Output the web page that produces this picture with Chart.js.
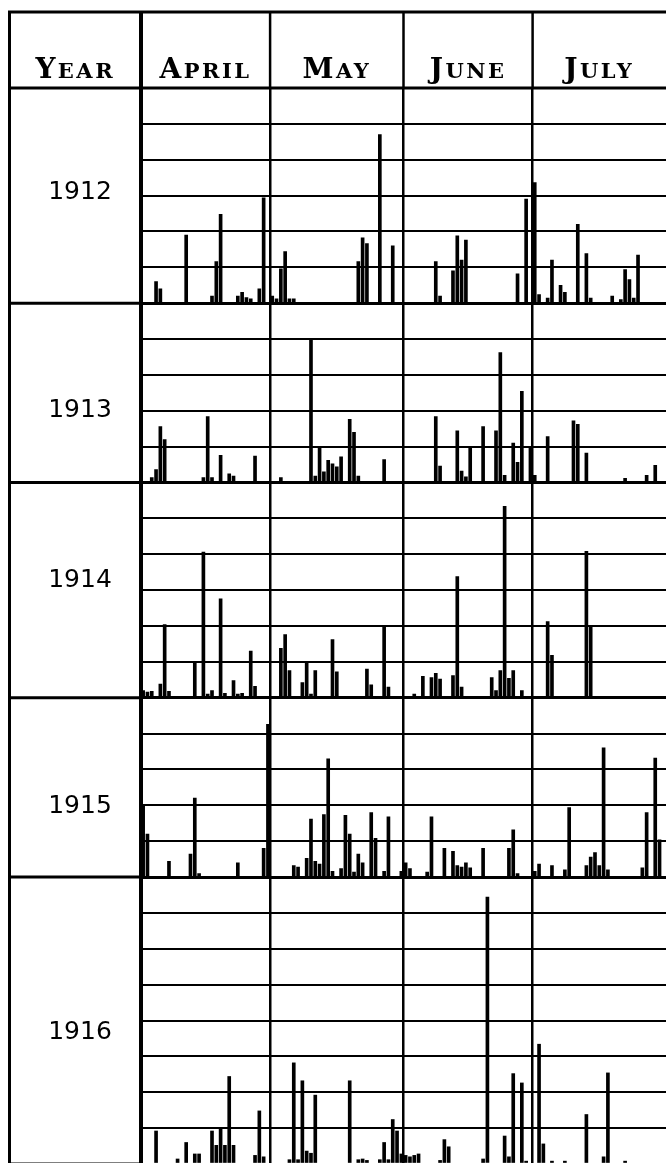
<!DOCTYPE html>
<html>
<head>
<meta charset="utf-8">
<script src="https://cdn.jsdelivr.net/npm/chart.js@4.4.1/dist/chart.umd.min.js"></script>
<style>
  html, body { margin: 0; padding: 0; background: #fff; overflow: hidden; }
  canvas { display: block; }
</style>
</head>
<body>
<canvas id="rain" width="666" height="1170"></canvas>
<script>
const months = ['April', 'May', 'June', 'July']
const monthNums = [4, 5, 6, 7]
const monthDays = [30, 31, 30, 31]
const years = ['1912', '1913', '1914', '1915', '1916']
// top of each year's band in inches, ruled every half inch
const yearMax = [3.0, 2.5, 3.0, 2.5, 4.0]

// daily rainfall, [month/day, inches]
const rain1912 = [
  ['4/4', 0.30], ['4/5', 0.20], ['4/11', 0.95], ['4/17', 0.10], ['4/18', 0.58], ['4/19', 1.24],
  ['4/23', 0.10], ['4/24', 0.15], ['4/25', 0.08], ['4/26', 0.06], ['4/28', 0.20], ['4/29', 1.47],
  ['5/1', 0.10], ['5/2', 0.06], ['5/3', 0.48], ['5/4', 0.72], ['5/5', 0.06], ['5/6', 0.06],
  ['5/21', 0.58], ['5/22', 0.91], ['5/23', 0.83], ['5/26', 2.35], ['5/29', 0.80],
  ['6/8', 0.58], ['6/9', 0.10], ['6/12', 0.45], ['6/13', 0.94], ['6/14', 0.60], ['6/15', 0.88],
  ['6/27', 0.41], ['6/29', 1.45],
  ['7/1', 1.68], ['7/2', 0.12], ['7/4', 0.07], ['7/5', 0.60], ['7/7', 0.25], ['7/8', 0.15],
  ['7/11', 1.10], ['7/13', 0.69], ['7/14', 0.07], ['7/19', 0.10], ['7/21', 0.05], ['7/22', 0.47],
  ['7/23', 0.33], ['7/24', 0.07], ['7/25', 0.67]
]
const rain1913 = [
  ['4/3', 0.07], ['4/4', 0.18], ['4/5', 0.78], ['4/6', 0.60], ['4/15', 0.07], ['4/16', 0.92],
  ['4/17', 0.07], ['4/19', 0.38], ['4/21', 0.12], ['4/22', 0.09], ['4/27', 0.37],
  ['5/3', 0.07], ['5/10', 2.00], ['5/11', 0.09], ['5/12', 0.48], ['5/13', 0.15], ['5/14', 0.31],
  ['5/15', 0.26], ['5/16', 0.22], ['5/17', 0.36], ['5/19', 0.88], ['5/20', 0.70], ['5/21', 0.09],
  ['5/27', 0.32],
  ['6/8', 0.92], ['6/9', 0.23], ['6/13', 0.72], ['6/14', 0.16], ['6/15', 0.08], ['6/16', 0.48],
  ['6/19', 0.78], ['6/22', 0.72], ['6/23', 1.81], ['6/24', 0.10], ['6/26', 0.55], ['6/27', 0.28],
  ['6/28', 1.27], ['6/30', 0.48],
  ['7/1', 0.10], ['7/4', 0.64], ['7/10', 0.86], ['7/11', 0.81], ['7/13', 0.41], ['7/22', 0.06],
  ['7/27', 0.10], ['7/29', 0.24]
]
const rain1914 = [
  ['4/1', 0.10], ['4/2', 0.08], ['4/3', 0.09], ['4/5', 0.19], ['4/6', 1.02], ['4/7', 0.09],
  ['4/13', 0.50], ['4/15', 2.03], ['4/16', 0.05], ['4/17', 0.10], ['4/19', 1.38], ['4/20', 0.06],
  ['4/22', 0.24], ['4/23', 0.05], ['4/24', 0.06], ['4/26', 0.65], ['4/27', 0.16],
  ['5/3', 0.69], ['5/4', 0.88], ['5/5', 0.38], ['5/8', 0.21], ['5/9', 0.50], ['5/10', 0.05],
  ['5/11', 0.38], ['5/15', 0.81], ['5/16', 0.36], ['5/23', 0.40], ['5/24', 0.18], ['5/27', 1.01],
  ['5/28', 0.15],
  ['6/3', 0.05], ['6/5', 0.30], ['6/7', 0.28], ['6/8', 0.34], ['6/9', 0.26], ['6/12', 0.31],
  ['6/13', 1.69], ['6/14', 0.15], ['6/21', 0.28], ['6/22', 0.10], ['6/23', 0.38], ['6/24', 2.67],
  ['6/25', 0.27], ['6/26', 0.38], ['6/28', 0.10],
  ['7/4', 1.06], ['7/5', 0.59], ['7/13', 2.04], ['7/14', 0.98]
]
const rain1915 = [
  ['4/1', 1.01], ['4/2', 0.60], ['4/7', 0.22], ['4/12', 0.32], ['4/13', 1.10], ['4/14', 0.05],
  ['4/23', 0.20], ['4/29', 0.40], ['4/30', 2.13],
  ['5/6', 0.16], ['5/7', 0.14], ['5/9', 0.26], ['5/10', 0.81], ['5/11', 0.22], ['5/12', 0.18],
  ['5/13', 0.87], ['5/14', 1.65], ['5/15', 0.08], ['5/17', 0.12], ['5/18', 0.86], ['5/19', 0.60],
  ['5/20', 0.07], ['5/21', 0.32], ['5/22', 0.20], ['5/24', 0.90], ['5/25', 0.54], ['5/27', 0.08],
  ['5/28', 0.84], ['5/31', 0.08],
  ['6/1', 0.20], ['6/2', 0.12], ['6/6', 0.07], ['6/7', 0.84], ['6/10', 0.40], ['6/12', 0.36],
  ['6/13', 0.16], ['6/14', 0.14], ['6/15', 0.20], ['6/16', 0.13], ['6/19', 0.40], ['6/25', 0.40],
  ['6/26', 0.66], ['6/27', 0.05],
  ['7/1', 0.08], ['7/2', 0.18], ['7/5', 0.16], ['7/8', 0.10], ['7/9', 0.97], ['7/13', 0.16],
  ['7/14', 0.28], ['7/15', 0.34], ['7/16', 0.16], ['7/17', 1.80], ['7/18', 0.10], ['7/26', 0.13],
  ['7/27', 0.90], ['7/29', 1.66], ['7/30', 0.52]
]
const rain1916 = [
  ['4/4', 0.46], ['4/9', 0.07], ['4/11', 0.30], ['4/13', 0.14], ['4/14', 0.14], ['4/17', 0.46],
  ['4/18', 0.26], ['4/19', 0.49], ['4/20', 0.26], ['4/21', 1.22], ['4/22', 0.26], ['4/27', 0.12],
  ['4/28', 0.74], ['4/29', 0.10],
  ['5/5', 0.06], ['5/6', 1.41], ['5/7', 0.06], ['5/8', 1.16], ['5/9', 0.18], ['5/10', 0.15],
  ['5/11', 0.96], ['5/19', 1.16], ['5/21', 0.06], ['5/22', 0.07], ['5/23', 0.05], ['5/26', 0.06],
  ['5/27', 0.30], ['5/28', 0.06], ['5/29', 0.62], ['5/30', 0.46], ['5/31', 0.14],
  ['6/1', 0.12], ['6/2', 0.10], ['6/3', 0.12], ['6/4', 0.14], ['6/9', 0.05], ['6/10', 0.34],
  ['6/11', 0.24], ['6/19', 0.07], ['6/20', 3.72], ['6/24', 0.39], ['6/25', 0.10], ['6/26', 1.26],
  ['6/28', 1.13], ['6/29', 0.04],
  ['7/2', 1.67], ['7/3', 0.28], ['7/5', 0.04], ['7/8', 0.04], ['7/13', 0.69], ['7/17', 0.10],
  ['7/18', 1.27], ['7/22', 0.04]
]
const series = [rain1912, rain1913, rain1914, rain1915, rain1916]

// one category per day, April 1 to July 31
const labels = []
const monthStarts = []
monthNums.forEach((m, k) => {
  monthStarts.push(labels.length)
  for (let d = 1; d <= monthDays[k]; d++) labels.push(`${m}/${d}`)
})

const yearLabelY = [192, 410, 580, 806, 1032]

function smallCaps(ctx, text, cx, baseline) {
  const big = 'bold 28px "DejaVu Serif"'
  const small = 'bold 21px "DejaVu Serif"'
  const first = text[0]
  const rest = text.slice(1).toUpperCase()
  ctx.letterSpacing = '2.5px'
  ctx.font = big
  const w1 = ctx.measureText(first).width
  ctx.font = small
  const w2 = ctx.measureText(rest).width
  const x = cx - (w1 + w2) / 2
  ctx.font = big
  ctx.fillText(first, x, baseline)
  ctx.font = small
  ctx.fillText(rest, x + w1, baseline)
  ctx.letterSpacing = '0px'
}

const framePlugin = {
  id: 'frame',
  afterDraw(chart) {
    const ctx = chart.ctx
    const area = chart.chartArea
    const dayW = (area.right - area.left) / labels.length
    const edges = monthStarts.map(i => area.left + i * dayW)
    edges.push(area.right)
    const left = 9.5
    const top = 12

    const line = (x1, y1, x2, y2, w) => {
      ctx.lineWidth = w
      ctx.beginPath()
      ctx.moveTo(x1, y1)
      ctx.lineTo(x2, y2)
      ctx.stroke()
    }

    ctx.save()
    ctx.strokeStyle = "#000"
    ctx.fillStyle = "#000"
    line(left - 1.5, top, area.right, top, 3)
    line(left, top, left, area.bottom, 3)
    line(area.left, top, area.left, area.bottom, 4)
    line(left, area.top, area.right, area.top, 3)
    edges.slice(1, -1).forEach(x => line(x, top, x, area.top, 2.5))
    years.forEach(yr => {
      const y = chart.scales['y' + yr].getPixelForValue(0)
      line(left, y, area.left, y, 3)
    })

    ctx.textAlign = "left"
    ctx.textBaseline = "alphabetic"
    smallCaps(ctx, 'Year', (left + area.left) / 2, 78)
    months.forEach((m, k) => smallCaps(ctx, m, (edges[k] + edges[k + 1]) / 2, 78))

    ctx.textAlign = "center"
    ctx.textBaseline = "middle"
    ctx.font = '25px "DejaVu Sans"'
    years.forEach((yr, k) => ctx.fillText(yr, 80, yearLabelY[k]))
    ctx.restore()
  }
}

const scales = {
  x: {
    ticks: { display: false, autoSkip: false },
    border: { display: false },
    grid: {
      offset: true,
      drawTicks: false,
      lineWidth: 2.5,
      color: c => monthStarts.includes(c.index) && c.index > 0 ? "#000" : "rgba(0,0,0,0)"
    },
    afterFit: s => { s.height = 0 }
  }
}
years.forEach((yr, k) => {
  scales['y' + yr] = {
    type: 'linear',
    position: 'left',
    stack: 'years',
    stackWeight: yearMax[k] / 0.5,
    weight: years.length - k,
    min: 0,
    max: yearMax[k],
    ticks: { display: false, stepSize: 0.5 },
    border: { display: false },
    grid: {
      color: "#000",
      drawTicks: false,
      lineWidth: c => (c.tick && c.tick.value === 0 ? 3 : 2)
    },
    afterFit: s => { s.width = 0 }
  }
})

new Chart(document.getElementById('rain').getContext('2d'), {
  type: 'bar',
  data: {
    labels,
    datasets: years.map((yr, k) => ({
      label: yr,
      data: series[k].map(([day, inches]) => ({ x: day, y: inches })),
      yAxisID: 'y' + yr,
      backgroundColor: "#000",
      barThickness: 3,
      grouped: false
    }))
  },
  options: {
    responsive: false,
    animation: false,
    layout: { padding: { left: 141, top: 88, right: 0, bottom: 6 } },
    plugins: {
      legend: { display: false },
      tooltip: { enabled: false }
    },
    hover: { mode: null },
    scales
  },
  plugins: [framePlugin]
})
</script>
</body>
</html>
